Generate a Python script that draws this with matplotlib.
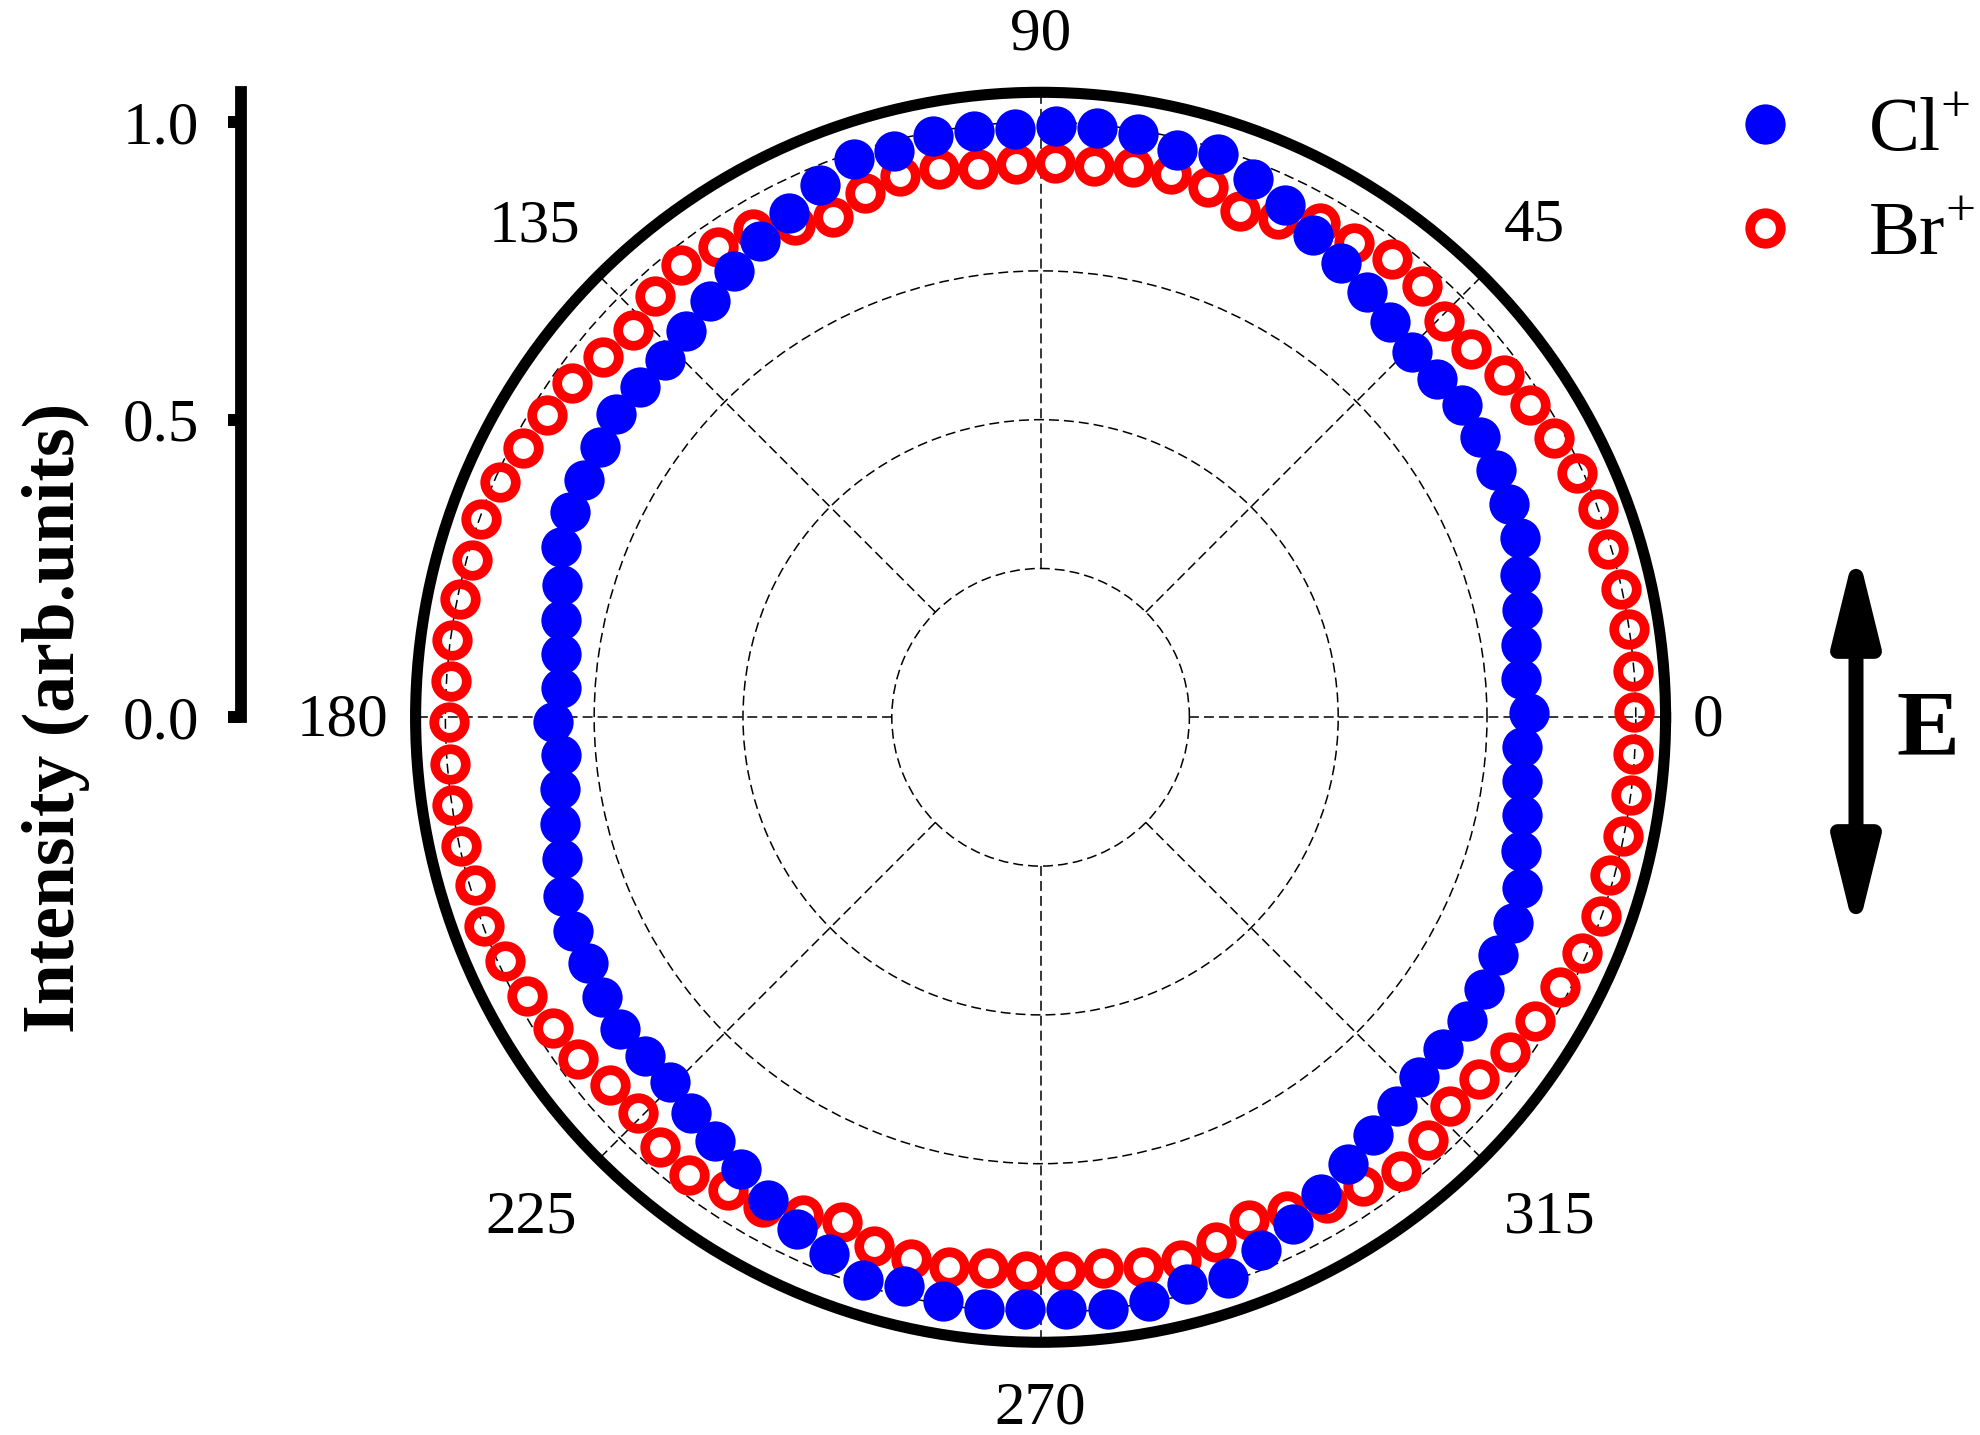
"""
Polar angular distribution of Cl+ and Br+ ion yields
"""

import numpy as np
import matplotlib
matplotlib.use("Agg")
import matplotlib.pyplot as plt
import matplotlib.transforms as mtransforms
from matplotlib.patches import FancyArrowPatch, ArrowStyle

plt.rcParams["font.family"] = ["Liberation Serif", "DejaVu Serif"]
plt.rcParams["mathtext.fontset"] = "custom"
plt.rcParams["mathtext.rm"] = "Liberation Serif"
plt.rcParams["mathtext.bf"] = "Liberation Serif:bold"

# polarisation angle of each measured point (deg)
angle_deg = np.arange(0.5, 360, 4)

cl_intensity = [
    0.821, 0.810, 0.816, 0.829, 0.840, 0.859, 0.865, 0.870, 0.875, 0.881,
    0.876, 0.876, 0.887, 0.900, 0.915, 0.931, 0.954, 0.972, 0.993, 0.981,
    0.993, 0.995, 0.993, 0.989, 0.992, 0.993, 0.982, 0.989, 0.968, 0.947,
    0.928, 0.909, 0.893, 0.881, 0.871, 0.873, 0.877, 0.869, 0.864, 0.863,
    0.855, 0.834, 0.822, 0.812, 0.808, 0.819, 0.808, 0.816, 0.827, 0.838,
    0.857, 0.864, 0.866, 0.874, 0.880, 0.875, 0.874, 0.887, 0.898, 0.911,
    0.931, 0.952, 0.970, 0.992, 0.982, 0.995, 0.998, 0.994, 0.995, 1.000,
    0.997, 0.984, 0.994, 0.969, 0.951, 0.929, 0.911, 0.896, 0.886, 0.877,
    0.876, 0.880, 0.874, 0.866, 0.866, 0.858, 0.838, 0.826, 0.816, 0.811,
]

br_intensity = [
    0.997, 0.998, 1.000, 0.998, 0.994, 1.000, 0.991, 0.982, 0.975, 0.968,
    0.952, 0.951, 0.967, 0.970, 0.955, 0.954, 0.927, 0.915, 0.934, 0.938,
    0.937, 0.930, 0.931, 0.930, 0.927, 0.936, 0.940, 0.929, 0.910, 0.924,
    0.953, 0.958, 0.970, 0.960, 0.945, 0.952, 0.966, 0.972, 0.980, 0.991,
    0.998, 0.991, 0.996, 0.998, 0.993, 0.994, 0.995, 0.999, 0.997, 0.991,
    0.999, 0.989, 0.982, 0.971, 0.966, 0.951, 0.948, 0.965, 0.969, 0.953,
    0.946, 0.927, 0.912, 0.932, 0.936, 0.937, 0.929, 0.931, 0.931, 0.931,
    0.940, 0.941, 0.930, 0.915, 0.927, 0.948, 0.956, 0.973, 0.964, 0.949,
    0.955, 0.969, 0.975, 0.983, 0.992, 0.999, 0.992, 0.998, 1.000, 0.997,
]

angle_ticks = [0, 45, 90, 135, 180, 225, 270, 315]
angle_labels = ["0", "45", "90", "135", "180", "225", "270", "315"]
radial_grid = [0.25, 0.5, 0.75, 1.0]
intensity_ticks = [0.0, 0.5, 1.0]
intensity_labels = ["0.0", "0.5", "1.0"]

R_MAX = 1.05
DASH = (0, (6.5, 3.3))
# (angle, radius) where each angle label is centred
label_pos = [(0, 1.122), (45.1, 1.174), (90, 1.153), (135.7, 1.189),
             (180, 1.172), (224.3, 1.196), (270, 1.155), (315.7, 1.194)]

fig = plt.figure(figsize=(19.8, 14.35), dpi=100)

# polar panel
ax = fig.add_axes([0.2099, 0.0646, 0.6313, 0.8711], projection="polar")
ax.set_ylim(0, R_MAX)
ax.set_xticks([])
ax.set_yticks(radial_grid)
ax.set_yticklabels([])
ax.yaxis.grid(True, color="k", lw=1.1, ls=DASH)
ax.spines["polar"].set_linewidth(8)

for a in angle_ticks:
    t = np.deg2rad(a)
    ax.plot([t, t], [radial_grid[0], R_MAX], color="k", lw=1.1, ls=DASH, zorder=1)

# nudge labels down a little so the digits, not the text box, are centred
nudge = ax.transData + mtransforms.ScaledTranslation(0, -2.7 / 72, fig.dpi_scale_trans)
for lab, (a, r) in zip(angle_labels, label_pos):
    ax.text(np.deg2rad(a), r, lab, fontsize=44, ha="center", va="center",
            transform=nudge)

theta = np.deg2rad(angle_deg)
br_line, = ax.plot(theta, br_intensity, ls="none", marker="o", ms=22,
                   mfc="none", mec="red", mew=7, zorder=3, label="Br$^{+}$")
cl_line, = ax.plot(theta, cl_intensity, ls="none", marker="o", ms=29,
                   color="blue", mec="blue", mew=0, zorder=4, label="Cl$^{+}$")

fig.legend([cl_line, br_line], ["Cl$^{+}$", "Br$^{+}$"], loc="upper left",
           bbox_to_anchor=(0.853, 0.932), frameon=False, fontsize=55,
           handlelength=2.0, handletextpad=0.35, labelspacing=0.45,
           borderpad=0, borderaxespad=0)

# intensity scale on the left
axl = fig.add_axes([0.1217, 0.50014, 0.02, 0.4355])
axl.set_ylim(0, R_MAX)
axl.set_yticks(intensity_ticks)
axl.set_yticklabels(intensity_labels)
axl.set_xticks([])
for side in ["right", "top", "bottom"]:
    axl.spines[side].set_visible(False)
axl.spines["left"].set_linewidth(8.5)
axl.patch.set_visible(False)
axl.tick_params(axis="y", direction="out", length=9.4, width=8.6, pad=21,
                labelsize=44)
fig.text(56 / 1980, 0.4997, "Intensity (arb.units)", rotation=90, fontsize=53,
         fontweight="bold", ha="center", va="center")

# polarisation vector
arrow = FancyArrowPatch((1856 / 1980, (1435 - 545) / 1435),
                        (1856 / 1980, (1435 - 938) / 1435),
                        transform=fig.transFigure,
                        arrowstyle=ArrowStyle("<|-|>", head_length=54, head_width=13.3),
                        mutation_scale=1, lw=10.8, color="k",
                        shrinkA=0, shrinkB=0, joinstyle="round", capstyle="butt")
fig.add_artist(arrow)
fig.text(1928 / 1980, (1435 - 732) / 1435, "E", fontsize=68, fontweight="bold",
         ha="center", va="center")

fig.savefig("out.png", dpi=100)
